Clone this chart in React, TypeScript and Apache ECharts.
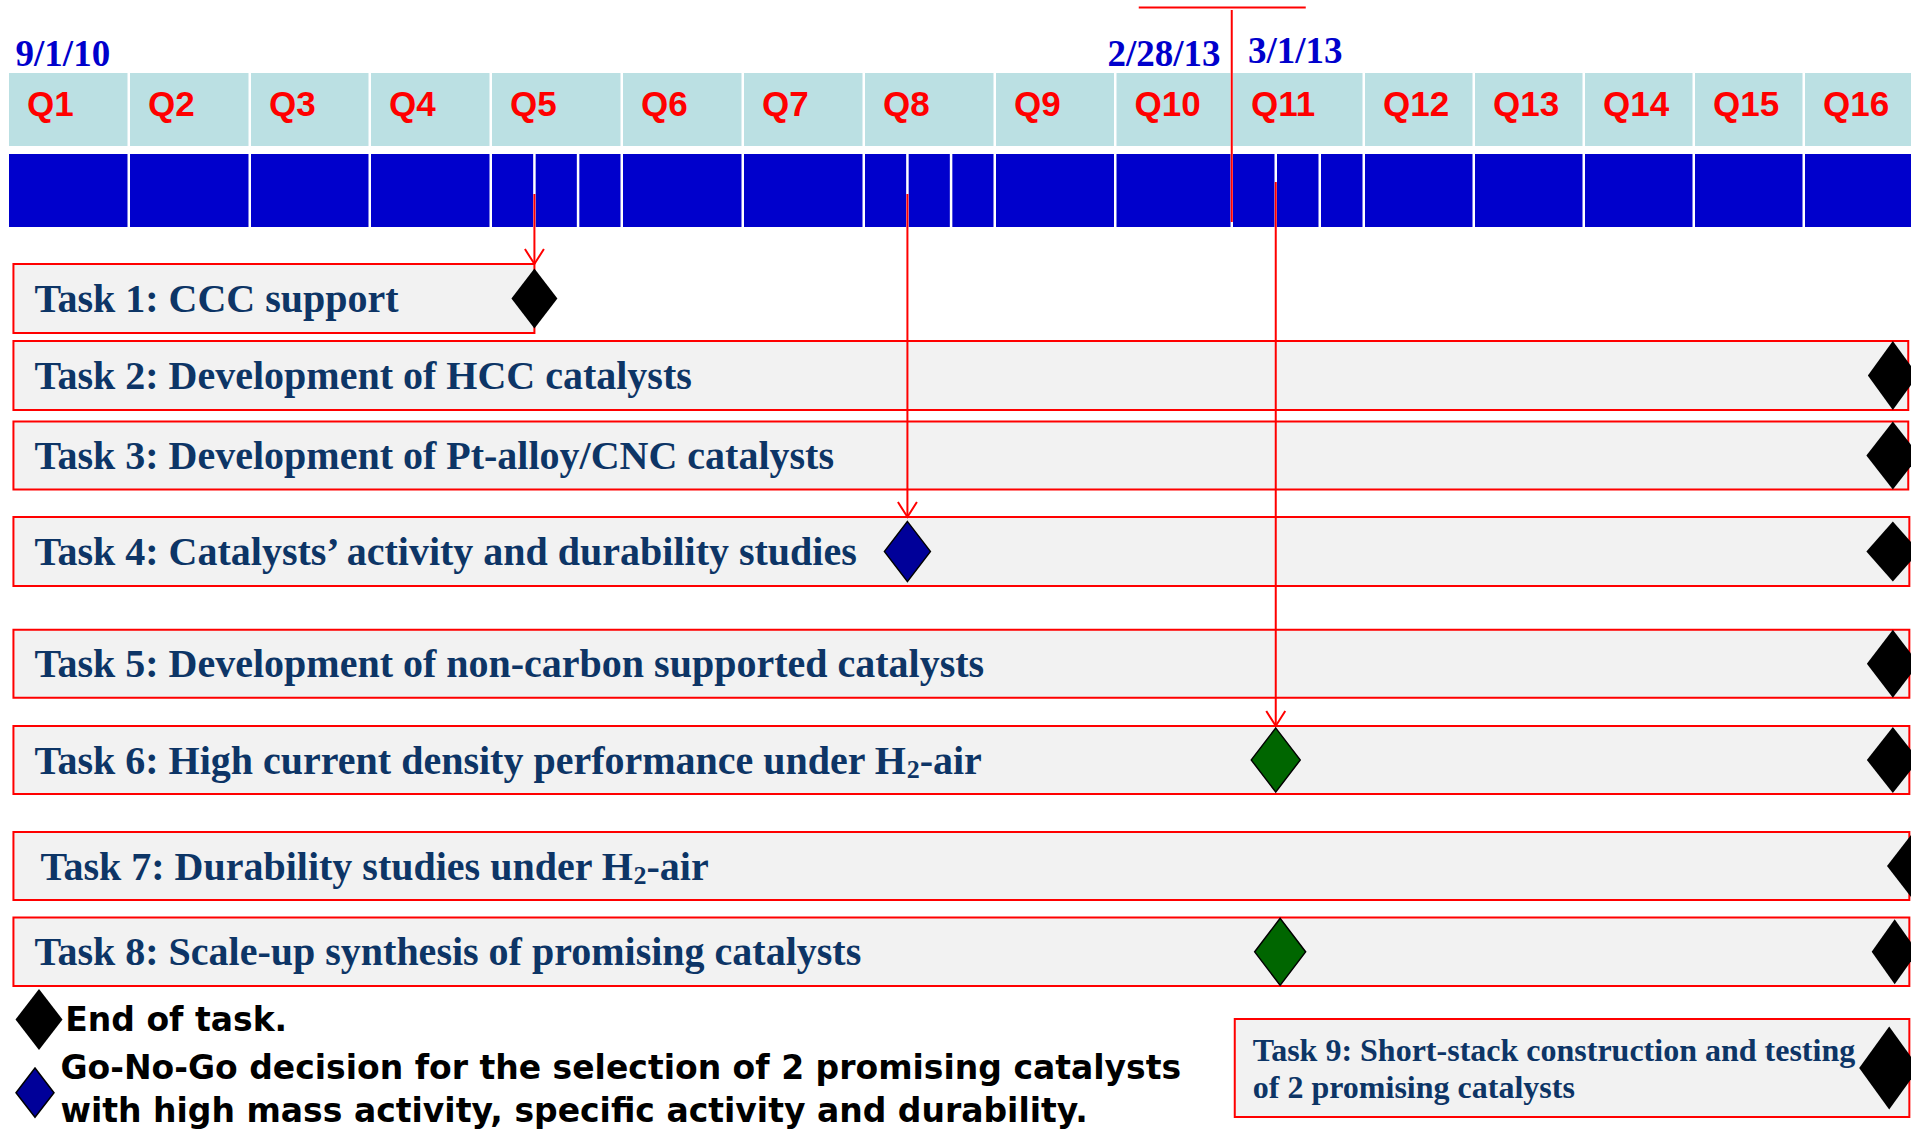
import React, { useEffect, useRef } from "react";
import * as echarts from "echarts";

// ---------------- DATA ----------------
const quarters = ["Q1", "Q2", "Q3", "Q4", "Q5", "Q6", "Q7", "Q8", "Q9", "Q10", "Q11", "Q12", "Q13", "Q14", "Q15", "Q16"];
const monthlyQuarters = ["Q5", "Q8", "Q11"];

const dateLabels = ["9/1/10", "2/28/13", "3/1/13"];
const dateMonths = [0, 30, 30];
const reviewMonth = 30;

const taskNames = [
  "Task 1: CCC support",
  "Task 2: Development of HCC catalysts",
  "Task 3: Development of Pt-alloy/CNC catalysts",
  "Task 4: Catalysts’ activity and durability studies",
  "Task 5: Development of non-carbon supported catalysts",
  "Task 6: High current density performance under H{sub|2}-air",
  "Task 7: Durability studies under H{sub|2}-air",
  "Task 8: Scale-up synthesis of promising catalysts",
  "Task 9: Short-stack construction and testing\nof 2 promising catalysts",
];
const taskStartMonths = [0.11, 0.11, 0.11, 0.11, 0.11, 0.11, 0.11, 0.11, 30.04];
const taskEndMonths = [13, 47.85, 47.85, 47.88, 47.88, 47.88, 47.88, 47.88, 47.88];
const endMarkerMonths = [13, 47.43, 47.43, 47.43, 47.43, 47.43, 48, 47.48, 47.33];

const goNoGoTasks = [3, 5, 7];
const goNoGoMonths = [22, 31, 31.1];
const goNoGoKinds = ["decision", "milestone", "milestone"];

const linkMonths = [13, 22, 31];
const linkTasks = [0, 3, 5];

const legendLabels = [
  "End of task.",
  "Go-No-Go decision for the selection of 2 promising catalysts\nwith high mass activity, specific activity and durability.",
];

// ---------------- LAYOUT & STYLE ----------------
const W = 1911;
const H = 1131;
const TIMELINE_LEFT = 9;
const QUARTER_SPANS = [121, 121, 120, 121, 131, 121, 121, 131, 120.5, 116.5, 132, 110, 110, 110, 110, 110];
const GAP = 2.5;
const HEADER_TOP = 73;
const HEADER_H = 73;
const MONTH_ROW_TOP = 154;
const MONTH_ROW_H = 73;
const ROW_CENTERS = [298.5, 375.5, 455.5, 551.5, 663.7, 760, 866, 951.8, 1068];
const ROW_HEIGHTS = [69, 69, 68, 69, 68, 68, 68, 68.5, 98];
const LABEL_INDENT = [21, 21, 21, 21, 21, 21, 27, 21, 18];
const END_MARKER_SIZES = [[46, 60], [50, 69], [53, 68], [53, 60], [52, 68], [52, 66], [48, 62], [46, 65], [60, 83]];
const GONOGO_SIZES = [[46, 60], [49, 64], [51, 67]];
const ARROW_START = [194, 194, 182];
const DATE_DX = [6.6, -12.5, 15];
const DATE_ALIGN = ["left", "right", "left"];
const DATE_BASELINE = [66, 66, 63];

const C = {
  light: "#BBE0E3",
  blue: "#0000CC",
  red: "#FF0000",
  barFill: "#F2F2F2",
  taskText: "#0D3566",
  date: "#0000CC",
  green: "#006600",
  navy: "#000099",
  black: "#000000",
};

const SERIF = "'Liberation Serif', 'Times New Roman', serif";
const SANS = "'Liberation Sans', Arial, sans-serif";
const LEGEND_FONT = "'DejaVu Sans', Verdana, sans-serif";

const QUARTER_STARTS: number[] = [];
{
  let acc = TIMELINE_LEFT;
  for (const s of QUARTER_SPANS) {
    QUARTER_STARTS.push(acc);
    acc += s;
  }
}

// month (since 9/1/10) -> timeline unit on the x axis
function xOf(month: number): number {
  const m = Math.max(0, month);
  let q = Math.floor(m / 3);
  if (q > QUARTER_SPANS.length - 1) q = QUARTER_SPANS.length - 1;
  const frac = (m - q * 3) / 3;
  return QUARTER_STARTS[q] + frac * QUARTER_SPANS[q];
}

function buildOption() {
  const headerSeries = {
    type: "custom",
    z: 1,
    silent: true,
    data: quarters.map((q, i) => [i]),
    renderItem: (params: any, api: any) => {
      const i = params.dataIndex;
      const [x0, yTop] = api.coord([xOf(i * 3), HEADER_TOP]);
      const [x1, yBot] = api.coord([xOf(i * 3 + 3), HEADER_TOP + HEADER_H]);
      const [, mTop] = api.coord([0, MONTH_ROW_TOP]);
      const [, mBot] = api.coord([0, MONTH_ROW_TOP + MONTH_ROW_H]);
      const children: any[] = [
        {
          type: "rect",
          shape: { x: x0, y: yTop, width: x1 - x0 - GAP, height: yBot - yTop },
          style: { fill: C.light },
        },
        {
          type: "text",
          style: {
            text: quarters[i],
            x: x0 + 18,
            y: (yTop + yBot) / 2 - 5.6,
            font: `bold 35px ${SANS}`,
            fill: C.red,
            textFill: C.red,
            textAlign: "left",
            textVerticalAlign: "middle",
            align: "left",
            verticalAlign: "middle",
          },
        },
      ];
      const parts = monthlyQuarters.includes(quarters[i]) ? 3 : 1;
      const w = (x1 - x0) / parts;
      for (let k = 0; k < parts; k++) {
        children.push({
          type: "rect",
          shape: { x: x0 + k * w, y: mTop, width: w - GAP, height: mBot - mTop },
          style: { fill: C.blue },
        });
      }
      return { type: "group", children };
    },
  };

  const taskSeries = {
    type: "custom",
    z: 2,
    silent: true,
    data: taskNames.map((n, i) => [taskStartMonths[i], taskEndMonths[i]]),
    renderItem: (params: any, api: any) => {
      const i = params.dataIndex;
      const top = ROW_CENTERS[i] - ROW_HEIGHTS[i] / 2;
      const [px0, py0] = api.coord([xOf(taskStartMonths[i]), top]);
      const [px1, py1] = api.coord([xOf(taskEndMonths[i]) - GAP / 2, top + ROW_HEIGHTS[i]]);
      const small = i === 8;
      const fontSize = small ? 32 : 40;
      const lh = small ? 37 : 44;
      return {
        type: "group",
        children: [
          {
            type: "rect",
            shape: { x: px0, y: py0, width: px1 - px0, height: py1 - py0 },
            style: { fill: C.barFill, stroke: C.red, lineWidth: 2 },
          },
          {
            type: "text",
            style: {
              text: taskNames[i],
              x: px0 + LABEL_INDENT[i],
              y: (py0 + py1) / 2,
              font: `bold ${fontSize}px ${SERIF}`,
              fill: C.taskText,
              textFill: C.taskText,
              textAlign: "left",
              textVerticalAlign: "middle",
              align: "left",
              verticalAlign: "middle",
              lineHeight: lh,
              textLineHeight: lh,
              rich: {
                sub: {
                  font: `bold 26px ${SERIF}`,
                  fill: C.taskText,
                  textFill: C.taskText,
                  lineHeight: 8,
                  textLineHeight: 8,
                  verticalAlign: "bottom",
                  textVerticalAlign: "bottom",
                },
              },
            },
          },
        ],
      };
    },
  };

  const linkSeries = {
    type: "custom",
    z: 3,
    silent: true,
    data: linkMonths.map((m, i) => [m, linkTasks[i]]),
    renderItem: (params: any, api: any) => {
      const i = params.dataIndex;
      const t = linkTasks[i];
      const tipY = ROW_CENTERS[t] - ROW_HEIGHTS[t] / 2;
      const [x, y0] = api.coord([xOf(linkMonths[i]) - GAP / 2, ARROW_START[i]]);
      const [, y1] = api.coord([0, tipY]);
      const stl = { stroke: C.red, lineWidth: 2, fill: "none" };
      return {
        type: "group",
        children: [
          { type: "line", shape: { x1: x, y1: y0, x2: x, y2: y1 }, style: stl },
          { type: "polyline", shape: { points: [[x - 9.5, y1 - 15], [x, y1], [x + 9.5, y1 - 15]] }, style: stl },
        ],
      };
    },
  };

  const reviewSeries = {
    type: "custom",
    z: 3,
    silent: true,
    data: [[reviewMonth]],
    renderItem: (params: any, api: any) => {
      const [x, yTop] = api.coord([xOf(reviewMonth) - GAP / 2, 10]);
      const [, yBot] = api.coord([0, 222]);
      const [, yBar] = api.coord([0, 7.5]);
      const stl = { stroke: C.red, lineWidth: 2 };
      return {
        type: "group",
        children: [
          { type: "line", shape: { x1: x, y1: yTop, x2: x, y2: yBot }, style: stl },
          { type: "line", shape: { x1: x - 93, y1: yBar, x2: x + 74, y2: yBar }, style: stl },
        ],
      };
    },
  };

  const dateSeries = {
    type: "custom",
    z: 3,
    silent: true,
    data: dateMonths.map((m) => [m]),
    renderItem: (params: any, api: any) => {
      const i = params.dataIndex;
      const [x, y] = api.coord([xOf(dateMonths[i]) + DATE_DX[i], DATE_BASELINE[i] - 0.3375 * 37]);
      return {
        type: "text",
        style: {
          text: dateLabels[i],
          x,
          y,
          font: `bold 37px ${SERIF}`,
          fill: C.date,
          textFill: C.date,
          textAlign: DATE_ALIGN[i],
          textVerticalAlign: "middle",
          align: DATE_ALIGN[i],
          verticalAlign: "middle",
        },
      };
    },
  };

  const endMarkerSeries = {
    type: "scatter",
    z: 5,
    silent: true,
    clip: false,
    symbol: "diamond",
    itemStyle: { color: C.black, opacity: 1 },
    data: endMarkerMonths.map((m, i) => ({
      value: [Math.min(xOf(m) - GAP / 2, W), ROW_CENTERS[i]],
      symbolSize: END_MARKER_SIZES[i],
    })),
  };

  const goNoGoSeries = {
    type: "scatter",
    z: 5,
    silent: true,
    clip: false,
    symbol: "diamond",
    data: goNoGoMonths.map((m, i) => ({
      value: [xOf(m) - GAP / 2, ROW_CENTERS[goNoGoTasks[i]]],
      symbolSize: GONOGO_SIZES[i],
      itemStyle: {
        color: goNoGoKinds[i] === "decision" ? C.navy : C.green,
        borderColor: C.black,
        borderWidth: 1.5,
        opacity: 1,
      },
    })),
  };

  const legendText = (text: string, x: number, y: number, lh: number) => ({
    type: "text",
    x: 0,
    y: 0,
    silent: true,
    style: {
      text,
      x,
      y,
      font: `bold 33px ${LEGEND_FONT}`,
      fill: C.black,
      textFill: C.black,
      textAlign: "left",
      textVerticalAlign: "middle",
      align: "left",
      verticalAlign: "middle",
      lineHeight: lh,
      textLineHeight: lh,
    },
  });

  return {
    animation: false,
    backgroundColor: "#FFFFFF",
    grid: { left: 0, right: 0, top: 0, bottom: 0, containLabel: false },
    xAxis: { type: "value", min: 0, max: W, show: false },
    yAxis: { type: "value", min: 0, max: H, inverse: true, show: false },
    series: [headerSeries, taskSeries, linkSeries, reviewSeries, dateSeries, endMarkerSeries, goNoGoSeries],
    graphic: [
      {
        type: "polygon",
        silent: true,
        shape: { points: [[39, 989], [62.5, 1019.5], [39, 1050], [15.5, 1019.5]] },
        style: { fill: C.black },
      },
      {
        type: "polygon",
        silent: true,
        shape: { points: [[35, 1068], [54, 1092.7], [35, 1117.3], [16, 1092.7]] },
        style: { fill: C.navy, stroke: C.black, lineWidth: 1.5 },
      },
      legendText(legendLabels[0], 65.3, 1019.3, 40),
      legendText(legendLabels[1], 60.5, 1089, 43.3),
    ],
  };
}

export default function App() {
  const ref = useRef<HTMLDivElement>(null);
  useEffect(() => {
    document.body.style.margin = "0";
    if (!ref.current) return;
    const chart = echarts.init(ref.current, undefined, { renderer: "svg" });
    chart.setOption(buildOption() as any);
    return () => {
      chart.dispose();
    };
  }, []);
  return <div ref={ref} style={{ width: W, height: H, background: "#fff" }} />;
}
